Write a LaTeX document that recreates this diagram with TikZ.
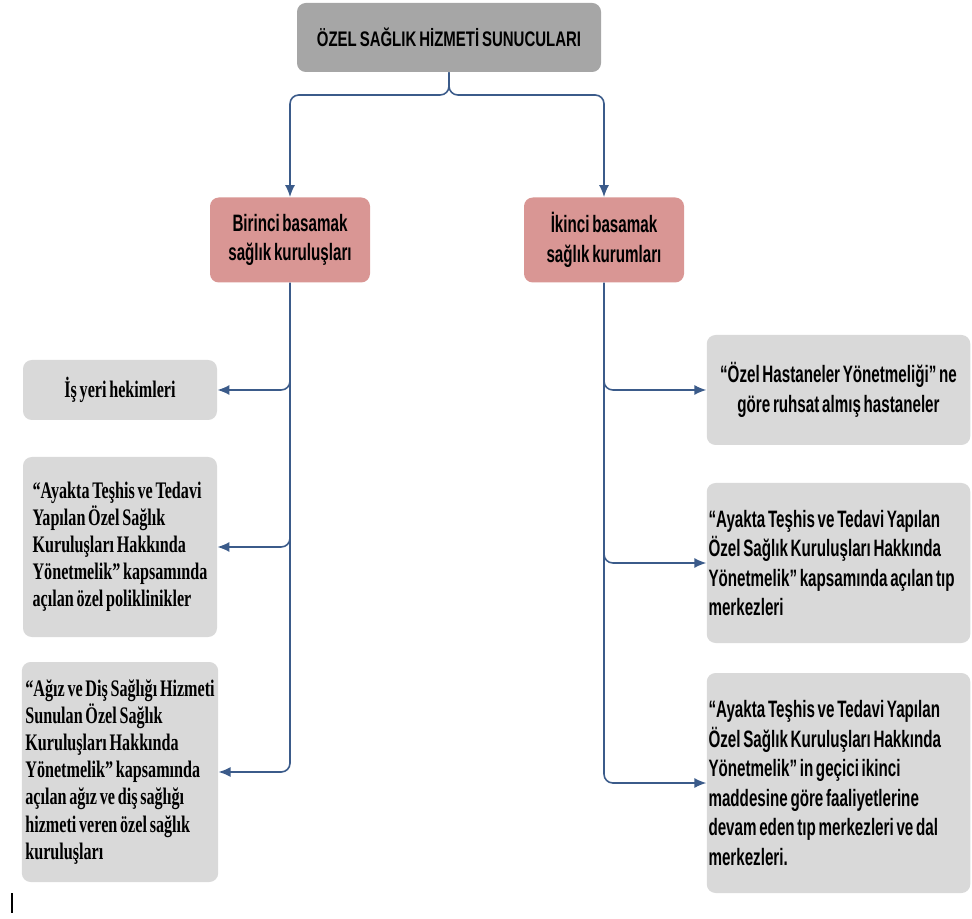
\documentclass[tikz,border=0pt]{standalone}
\usepackage{fontspec}
\usetikzlibrary{positioning, arrows.meta, calc}
\newfontfamily\headsans[FakeStretch=0.71, WordSpace=0.71]{Liberation Sans}
\newfontfamily\boxsans[FakeStretch=0.64, WordSpace=0.64]{Liberation Sans}
\newfontfamily\boxserif[FakeStretch=0.68, WordSpace=0.68]{Liberation Serif}
\definecolor{headgray}{HTML}{A6A6A6}
\definecolor{tierpink}{HTML}{D99694}
\definecolor{leafgray}{HTML}{D9D9D9}
\definecolor{linkblue}{HTML}{3B5B8A}
\tikzset{
  headbox/.style   = {rectangle, rounded corners=5pt, fill=headgray, minimum width=6.08cm,
                      minimum height=1.38cm, font=\headsans\bfseries\fontsize{12}{15}\selectfont},
  tierbox/.style   = {rectangle, rounded corners=5pt, fill=tierpink, minimum width=3.2cm,
                      minimum height=1.7cm, align=center, font=\boxsans\bfseries\fontsize{13.5}{16.8}\selectfont},
  leftleaf/.style  = {rectangle, rounded corners=5pt, fill=leafgray, minimum width=3.88cm,
                      inner xsep=2pt, align=left, font=\boxserif\bfseries\fontsize{13.5}{15.4}\selectfont},
  rightleaf/.style = {rectangle, rounded corners=5pt, fill=leafgray, text width=5.2cm,
                      inner xsep=1pt, align=flush left, font=\boxsans\bfseries\fontsize{13.5}{16.8}\selectfont},
  link/.style      = {line width=0.9pt, draw=linkblue, rounded corners=5pt,
                      -{Latex[length=2.4mm, width=2mm]}},
}

\begin{document}
\begin{tikzpicture}
\useasboundingbox (0,0) rectangle (19.44,18.36);

% =============== HEAD ===============
\node (top) [headbox] at (8.98,17.61) {ÖZEL SAĞLIK HİZMETİ SUNUCULARI};

% =============== TIERS ===============
\node (pink1) [tierbox] at (5.80,13.56) {Birinci basamak\\sağlık kuruluşları};
\node (pink2) [tierbox] at (12.08,13.56) {İkinci basamak\\sağlık kurumları};

\coordinate (fork) at (8.98,16.46);
\draw[link] (top.south) -- (fork) -| (pink1.north);
\draw[link] (top.south) -- (fork) -| (pink2.north);

% =============== LEFT LEAVES ===============
\node (l1) [leftleaf, align=center, minimum height=1.2cm] at (2.40,10.56) {İş yeri hekimleri};
\node (l2) [leftleaf, minimum height=3.6cm] at (2.40,7.42) {%
  “Ayakta Teşhis ve Tedavi\\Yapılan Özel Sağlık\\Kuruluşları Hakkında\\%
  Yönetmelik” kapsamında\\açılan özel poliklinikler};
\node (l3) [leftleaf, minimum height=4.4cm] at (2.40,2.92) {%
  “Ağız ve Diş Sağlığı Hizmeti\\Sunulan Özel Sağlık\\Kuruluşları Hakkında\\%
  Yönetmelik” kapsamında\\açılan ağız ve diş sağlığı\\hizmeti veren özel sağlık\\kuruluşları};

\foreach \leaf in {l1,l2,l3}
  \draw[link] (pink1.south) |- (\leaf.east);

% =============== RIGHT LEAVES ===============
\node (r1) [rightleaf, align=flush center, minimum height=2.2cm] at (16.77,10.56) {%
  “Özel Hastaneler Yönetmeliği” ne\\göre ruhsat almış hastaneler};
\node (r2) [rightleaf, minimum height=3.2cm] at (16.77,7.10) {%
  “Ayakta Teşhis ve Tedavi Yapılan\\Özel Sağlık Kuruluşları Hakkında\\%
  Yönetmelik” kapsamında açılan tıp\\merkezleri};
\node (r3) [rightleaf, minimum height=4.4cm] at (16.77,2.70) {%
  “Ayakta Teşhis ve Tedavi Yapılan\\Özel Sağlık Kuruluşları Hakkında\\%
  Yönetmelik” in geçici ikinci\\maddesine göre faaliyetlerine\\%
  devam eden tıp merkezleri ve dal\\merkezleri.};

\foreach \leaf in {r1,r2,r3}
  \draw[link] (pink2.south) |- (\leaf.west);

% stray cursor mark
\fill (0.22,0.10) rectangle (0.26,0.50);

\end{tikzpicture}
\end{document}
